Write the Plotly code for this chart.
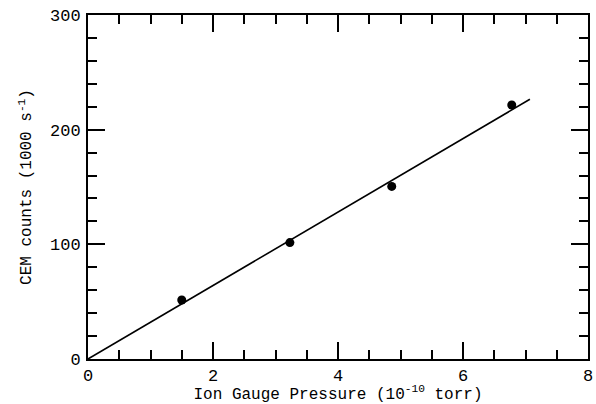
import plotly.graph_objects as go

pressure = [1.50, 3.23, 4.86, 6.78]
counts = [51.5, 101.5, 150.5, 221.5]
fit_x = [0.0, 7.07]
fit_y = [0.0, 226.5]

x_tickvals = [0, 2, 4, 6, 8]
y_tickvals = [0, 100, 200, 300]

FONT = "Liberation Mono"

fig = go.Figure()
fig.add_trace(go.Scatter(x=fit_x, y=fit_y, mode="lines",
                         line=dict(color="black", width=1.6), showlegend=False))
fig.add_trace(go.Scatter(x=pressure, y=counts, mode="markers",
                         marker=dict(color="black", size=9), showlegend=False))

axis_common = dict(
    showgrid=False, zeroline=False, showline=True, linecolor="black", linewidth=2,
    mirror="allticks", ticks="inside", ticklen=17, tickwidth=1.5, tickcolor="black",
    tickfont=dict(family=FONT, size=17, color="black"), automargin=False,
)

fig.update_xaxes(range=[0, 8], tickvals=x_tickvals, ticktext=[str(v) for v in x_tickvals],
                 minor=dict(dtick=0.5, ticks="inside", ticklen=9, tickwidth=1.5, tickcolor="black"),
                 ticklabelstandoff=0,
                 title=dict(text="Ion Gauge Pressure (10<sup>-10</sup> torr)",
                            font=dict(family=FONT, size=16, color="black"), standoff=0),
                 **axis_common)
fig.update_yaxes(range=[0, 300], tickvals=y_tickvals, ticktext=[str(v) for v in y_tickvals],
                 minor=dict(dtick=20, ticks="inside", ticklen=9, tickwidth=1.5, tickcolor="black"),
                 ticklabelstandoff=2,
                 title=dict(text="CEM counts (1000 s<sup>-1</sup>)",
                            font=dict(family=FONT, size=16, color="black"), standoff=14),
                 **axis_common)

fig.update_layout(width=596, height=404, plot_bgcolor="white", paper_bgcolor="white",
                  margin=dict(l=88, r=8, t=15, b=45))

fig.write_html("out.html", config={"displayModeBar": False},
               post_script="document.body.style.margin='0';document.body.style.overflow='hidden';")
